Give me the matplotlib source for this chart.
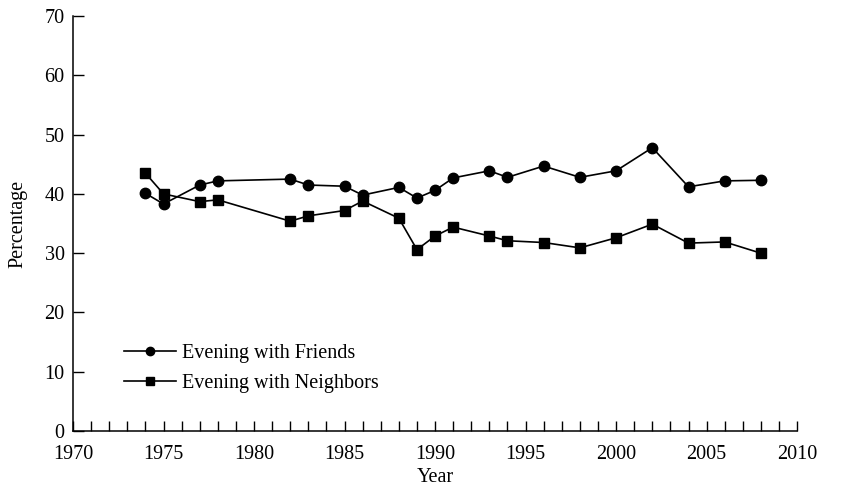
import matplotlib
matplotlib.use("Agg")
from matplotlib import pyplot as plt
from matplotlib.ticker import MultipleLocator

years = [1974, 1975, 1977, 1978, 1982, 1983, 1985, 1986, 1988, 1989, 1990,
         1991, 1993, 1994, 1996, 1998, 2000, 2002, 2004, 2006, 2008]
friends = [40.1, 38.3, 41.5, 42.2, 42.5, 41.5, 41.3, 39.8, 41.1, 39.3, 40.6,
           42.7, 43.9, 42.8, 44.7, 42.8, 43.9, 47.8, 41.2, 42.2, 42.3]
neighbors = [43.5, 40.0, 38.7, 39.0, 35.4, 36.3, 37.2, 38.8, 35.9, 30.6, 32.9,
             34.4, 32.9, 32.1, 31.8, 30.9, 32.6, 34.9, 31.7, 31.9, 30.0]

plt.rcParams['font.family'] = ['Liberation Serif', 'DejaVu Serif']
fs = 14.5

fig = plt.figure(figsize=(8.42, 4.91), dpi=100)
ax = fig.add_axes([0.0867, 0.1222, 0.86, 0.845])

ax.plot(years, friends, color='black', lw=1.2, marker='o', ms=7.5,
        label='Evening with Friends')
ax.plot(years, neighbors, color='black', lw=1.2, marker='s', ms=6.5,
        label='Evening with Neighbors')

ax.set_xlim(1970, 2010)
ax.set_ylim(0, 70)
ax.xaxis.set_major_locator(MultipleLocator(5))
ax.xaxis.set_minor_locator(MultipleLocator(1))
ax.yaxis.set_major_locator(MultipleLocator(10))
ax.tick_params(axis='x', which='both', direction='in', length=7, width=1, pad=10)
ax.tick_params(axis='y', direction='in', length=8, width=1, pad=6)
ax.tick_params(labelsize=fs)
for s in ('top', 'right'):
    ax.spines[s].set_visible(False)
for s in ('left', 'bottom'):
    ax.spines[s].set_linewidth(1.1)

ax.set_xlabel('Year', fontsize=fs, labelpad=3)
ax.set_ylabel('Percentage', fontsize=fs, labelpad=12)

leg = ax.legend(loc='lower left', bbox_to_anchor=(0.045, 0.047), frameon=False,
                fontsize=fs, handlelength=2.6, markerscale=0.8,
                labelspacing=0.55, handletextpad=0.3)

fig.savefig('out.png', dpi=100)
